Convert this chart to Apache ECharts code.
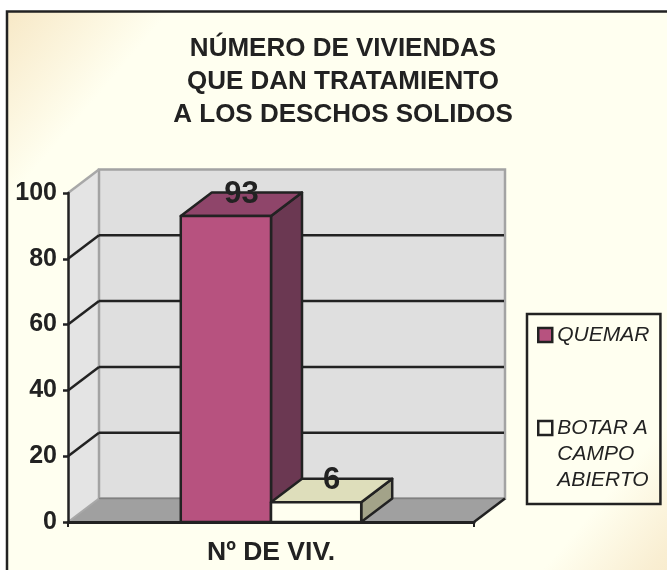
<!DOCTYPE html>
<html><head><meta charset="utf-8">
<style>html,body{margin:0;padding:0;background:#fff}#c{width:667px;height:570px}</style>
<script src="https://cdn.jsdelivr.net/npm/echarts@6/dist/echarts.min.js"></script>
</head><body><div id="c"></div>
<script>
const categories = ['Nº DE VIV.'];
const quemar = [93];
const botar = [6];
const yTicks = [0, 20, 40, 60, 80, 100];
const titleText = 'NÚMERO DE VIVIENDAS\nQUE DAN TRATAMIENTO\nA LOS DESCHOS SOLIDOS';
const nameQuemar = 'QUEMAR';
const nameBotar = 'BOTAR A\nCAMPO\nABIERTO';

const DX = 31, DY = 23.5, INK = '#222222', FONT = '"Liberation Sans", Arial, sans-serif';
const chart = echarts.init(document.getElementById('c'), null, {renderer: 'canvas'});

function poly(points, fill, stroke, lw) {
  return {type: 'polygon', shape: {points}, style: {fill, stroke: stroke || null, lineWidth: lw || 0, lineJoin: 'round'}};
}
function seg(x1, y1, x2, y2, stroke, lw) {
  return {type: 'line', shape: {x1, y1, x2, y2}, style: {stroke, lineWidth: lw}};
}
function renderWalls(params, api) {
  const cs = params.coordSys, L = cs.x, R = cs.x + cs.width;
  const t = api.value(1), y = api.coord([0, t])[1];
  const kids = [];
  if (params.dataIndex === 0) {
    const top = cs.y, bot = cs.y + cs.height;
    kids.push(poly([[L, top], [L + DX, top - DY], [L + DX, bot - DY], [L, bot]], '#e4e4e4'));
    kids.push({type: 'rect', shape: {x: L + DX, y: top - DY, width: cs.width, height: cs.height},
      style: {fill: '#dfdfdf', stroke: '#a3a3a3', lineWidth: 2.5}});
    kids.push(poly([[L, bot], [R, bot], [R + DX, bot - DY], [L + DX, bot - DY]], '#a0a0a0'));
    kids.push(seg(L + DX, bot - DY, R + DX, bot - DY, '#808080', 1.5));
    kids.push(seg(R, bot, R + DX, bot - DY, INK, 2.5));
    kids.push(seg(L, bot, L + DX, bot - DY, '#a8a8a8', 2));
    kids.push(seg(L, top, L + DX, top - DY, '#a8a8a8', 2.5));
  } else if (t < yTicks[yTicks.length - 1]) {
    kids.push(seg(L, y, L + DX, y - DY, INK, 2.5));
    kids.push(seg(L + DX, y - DY, R + DX - 1, y - DY, INK, 2.5));
  }
  return {type: 'group', children: kids};
}
function barRenderer(offset, front, topC, side) {
  return function (params, api) {
    const p = api.coord([api.value(0), api.value(1)]);
    const base = api.coord([api.value(0), 0]);
    const w = api.size([1, 0])[0] / 4.5;
    const x0 = p[0] + offset * w, x1 = x0 + w, yT = p[1], yB = base[1];
    return {type: 'group', children: [
      poly([[x1, yT], [x1 + DX, yT - DY], [x1 + DX, yB - DY], [x1, yB]], side, INK, 2.5),
      poly([[x0, yT], [x0 + DX, yT - DY], [x1 + DX, yT - DY], [x1, yT]], topC, INK, 2.5),
      poly([[x0, yT], [x1, yT], [x1, yB], [x0, yB]], front, INK, 2.5),
      {type: 'text', z2: 10, style: {text: String(api.value(1)), x: (x0 + x1) / 2 + DX / 2, y: yT - DY + 1.5,
        align: 'center', verticalAlign: 'middle', font: 'bold 31px ' + FONT, fill: INK}}
    ]};
  };
}

chart.setOption({
  animation: false,
  backgroundColor: '#ffffff',
  graphic: [{
    type: 'rect', z: -10, silent: true,
    shape: {x: 7, y: 11.5, width: 680, height: 580},
    style: {
      stroke: INK, lineWidth: 2.5,
      fill: new echarts.graphic.LinearGradient(0, 0, 1, 1, [
        {offset: 0, color: '#f7e8c6'}, {offset: 0.14, color: '#fffff0'},
        {offset: 0.86, color: '#fffff0'}, {offset: 0.95, color: '#f9eed2'}, {offset: 1, color: '#f7e8c6'}
      ])
    }
  }],
  title: {
    text: titleText, left: 338, top: 27, textAlign: 'center',
    textStyle: {fontFamily: FONT, fontWeight: 'bold', fontSize: 26, lineHeight: 33, color: INK}
  },
  grid: {left: 68, right: 193, top: 193, bottom: 48},
  xAxis: {
    type: 'category', data: categories, z: 20,
    axisLine: {lineStyle: {color: INK, width: 3}},
    axisTick: {show: true, length: 5, alignWithLabel: false, lineStyle: {color: INK, width: 2}},
    axisLabel: {interval: 0, margin: 17, fontFamily: FONT, fontWeight: 'bold', fontSize: 26.5, color: INK},
    splitLine: {show: false}
  },
  yAxis: {
    type: 'value', min: 0, max: 100, interval: 20, z: 20,
    axisLine: {show: true, lineStyle: {color: INK, width: 2.5}},
    axisTick: {show: true, length: 5, lineStyle: {color: INK, width: 2.5}},
    axisLabel: {margin: 11, fontFamily: FONT, fontWeight: 'bold', fontSize: 25, color: INK},
    splitLine: {show: false}
  },
  legend: {
    orient: 'vertical', left: 527, top: 314, itemWidth: 14, itemHeight: 14, itemGap: 15,
    padding: [8, 11, 11, 10], align: 'left',
    borderColor: INK, borderWidth: 2.5, backgroundColor: 'transparent', selectedMode: false,
    formatter: name => (name.indexOf('\n') >= 0 ? '\n\n' + name : name),
    textStyle: {fontFamily: FONT, fontStyle: 'italic', fontSize: 21, color: INK, lineHeight: 26},
    data: [
      {name: nameQuemar, icon: 'rect', itemStyle: {color: '#b7527f', borderColor: INK, borderWidth: 2.5}},
      {name: nameBotar, icon: 'rect', itemStyle: {color: '#fffff0', borderColor: INK, borderWidth: 2.5}}
    ]
  },
  series: [
    {type: 'custom', name: 'walls', z: 1, clip: false, silent: true, renderItem: renderWalls,
      encode: {x: 0, y: 1}, data: yTicks.map(t => [0, t])},
    {type: 'custom', name: nameQuemar, z: 2, clip: false,
      itemStyle: {color: '#b7527f'},
      renderItem: barRenderer(-1, '#b7527f', '#8f456a', '#6b3852'),
      encode: {x: 0, y: 1}, data: quemar.map((v, i) => [i, v])},
    {type: 'custom', name: nameBotar, z: 3, clip: false,
      itemStyle: {color: '#fffff0'},
      renderItem: barRenderer(0, '#fffff0', '#dedebb', '#a3a389'),
      encode: {x: 0, y: 1}, data: botar.map((v, i) => [i, v])}
  ]
});
</script></body></html>
